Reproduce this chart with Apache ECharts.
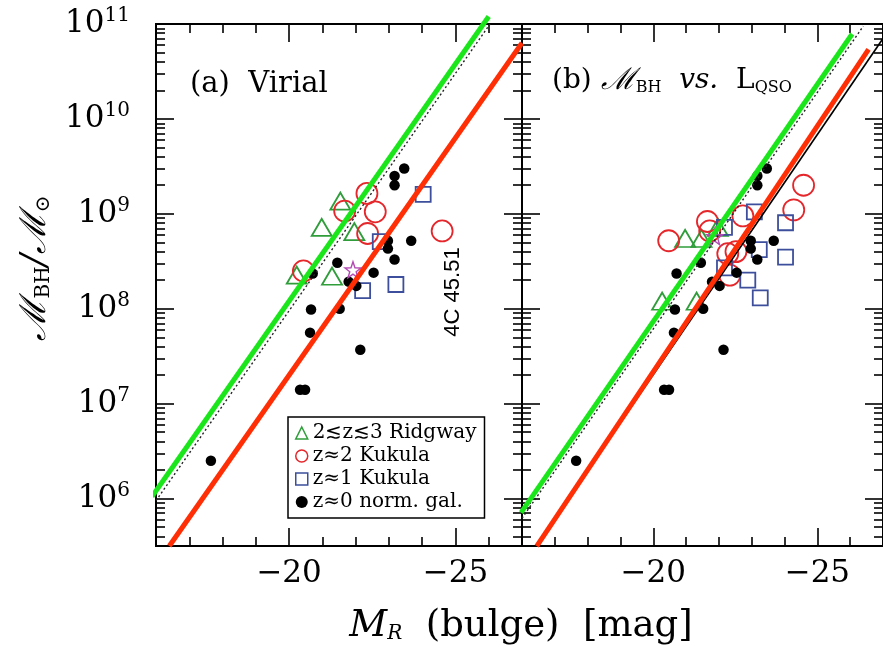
<!DOCTYPE html>
<html><head><meta charset="utf-8">
<script src="https://cdn.jsdelivr.net/npm/echarts@6/dist/echarts.min.js"></script>
<style>html,body{margin:0;padding:0;background:#fff}#c{width:883px;height:649px}</style>
</head><body><div id="c"></div><script>
// ---------------- data (M_R bulge [mag], M_BH [M_sun]) ----------------
const xLabelTicks = [-20, -25];
const xMajorTicks = [-20, -25];
const xMinorTicks = [-17, -18, -19, -21, -22, -23, -24, -26];
const yDecades = [1e6, 1e7, 1e8, 1e9, 1e10, 1e11];
const yMinorMultipliers = [2, 3, 4, 5, 6, 7, 8, 9];

// z~0 normal galaxies (same in both panels)
const normGal = [
  [-23.46, 3.0e9], [-23.17, 2.5e9], [-23.17, 2.0e9], [-23.67, 5.2e8], [-22.97, 5.2e8],
  [-22.97, 4.3e8], [-23.17, 3.3e8], [-21.45, 3.05e8], [-22.54, 2.4e8], [-20.71, 2.35e8],
  [-21.79, 1.93e8], [-22.02, 1.74e8], [-21.52, 1.0e8], [-20.66, 9.8e7], [-20.63, 5.6e7],
  [-22.14, 3.7e7], [-20.33, 1.4e7], [-20.48, 1.4e7], [-17.65, 2.5e6]
];
// panel (a) Virial
const ridgwayA = [[-21.54, 1.36e9], [-20.98, 7.2e8], [-21.96, 6.5e8], [-20.23, 2.26e8], [-21.29, 2.2e8]];
const kukula2A = [[-22.34, 1.64e9], [-21.67, 1.07e9], [-22.59, 1.05e9], [-22.36, 6.2e8], [-24.6, 6.6e8], [-20.43, 2.5e8]];
const kukula1A = [[-24.03, 1.6e9], [-22.74, 5.1e8], [-22.21, 1.55e8], [-23.21, 1.8e8]];
const starA = [[-21.92, 2.57e8]];
// panel (b) M_BH vs L_QSO
const ridgwayB = [[-20.97, 5.5e8], [-21.47, 5.5e8], [-21.97, 7.2e8], [-20.27, 1.2e8], [-21.32, 1.2e8]];
const kukula2B = [[-24.58, 2.0e9], [-24.28, 1.1e9], [-22.73, 9.5e8], [-21.65, 8.3e8], [-21.72, 6.6e8],
  [-20.47, 5.2e8], [-22.52, 4.0e8], [-22.27, 3.8e8], [-22.33, 2.26e8]];
const kukula1B = [[-23.08, 1.05e9], [-24.03, 8.05e8], [-24.03, 3.5e8], [-23.23, 4.2e8], [-22.17, 7.2e8],
  [-22.17, 2.7e8], [-22.88, 2.0e8], [-23.26, 1.3e8]];
const starB = [[-21.87, 5.75e8]];
// relation lines (endpoints)
const greenA = [[-15.88, 1.05e6], [-26.0, 1.2e11]];
const dottedA = [[-16.0, 9.5e5], [-26.04, 1.0e11]];
const redA = [[-16.4, 3.16e5], [-27.0, 6.3e10]];
const greenB = [[-15.97, 7.1e5], [-26.06, 7.85e10]];
const dottedB = [[-16.0, 6.2e5], [-26.4, 9.5e10]];
const redB = [[-16.45, 3.16e5], [-26.56, 5.4e10]];
const blackB = [[-16.43, 3.16e5], [-27.4, 1.12e11]];

const names = ['2\u2272z\u22723 Ridgway', 'z\u22482 Kukula', 'z\u22481 Kukula', 'z\u22480 norm. gal.'];

// ---------------- styling ----------------
const FF = 'DejaVu Serif';
const C_GREEN = '#2f9d3a', C_RED = '#e5262a', C_BLUE = '#3d4f9c', C_STAR = '#b24ab4';
const yMin = Math.pow(10, 5.5), yMax = 1e11;
const yMinor = [];
yDecades.concat([1e5]).forEach(d => yMinorMultipliers.forEach(m => { const v = d * m; if (v > yMin && v < yMax) yMinor.push(v); }));
const starPath = 'path://M0,-10L2.35,-3.24L9.51,-3.09L3.8,1.24L5.88,8.09L0,4L-5.88,8.09L-3.8,1.24L-9.51,-3.09L-2.35,-3.24Z';

const gridA = {left: 156, top: 24, width: 366, height: 522};
const gridB = {left: 522, top: 24, width: 366, height: 522};

function xAx(grid, pos, ticks, len, labels) {
  return {
    type: 'value', gridIndex: grid, position: pos, min: -27, max: -16, inverse: true,
    axisLine: {show: true, onZero: false, lineStyle: {color: '#000', width: 2}},
    axisTick: {show: true, inside: true, length: len, customValues: ticks, lineStyle: {color: '#000', width: 1.6}},
    axisLabel: labels ? {show: true, customValues: xLabelTicks, formatter: v => '\u2212' + Math.abs(v),
      fontFamily: FF, fontSize: 31, color: '#000', margin: 12} : {show: false},
    splitLine: {show: false}
  };
}
function yAx(grid, pos, ticks, len, labels) {
  return {
    type: 'log', logBase: 10, gridIndex: grid, position: pos, min: yMin, max: yMax,
    axisLine: {show: true, onZero: false, lineStyle: {color: '#000', width: 2}},
    axisTick: {show: true, inside: true, length: len, customValues: ticks, lineStyle: {color: '#000', width: 1.6}},
    axisLabel: labels ? {show: true, customValues: yDecades,
      formatter: v => '{b|10}{s|' + Math.round(Math.log10(v)) + '}',
      rich: {b: {fontFamily: FF, fontSize: 31, color: '#000'},
             s: {fontFamily: FF, fontSize: 20, color: '#000', padding: [0, 0, 16, 0]}},
      margin: 26} : {show: false},
    splitLine: {show: false}
  };
}

function scat(name, data, xi, yi, symbol, size, style) {
  return {type: 'scatter', name: name, data: data, xAxisIndex: xi, yAxisIndex: yi,
    symbol: symbol, symbolSize: size, itemStyle: Object.assign({opacity: 1}, style), z: 3, emphasis: {disabled: true}};
}
function line(data, xi, yi, color, width, type, z) {
  return {type: 'line', data: data, xAxisIndex: xi, yAxisIndex: yi, symbol: 'none', clip: false,
    lineStyle: {color: color, width: width, type: type || 'solid'}, z: z || 5, silent: true};
}
const stTri = {color: 'transparent', borderColor: C_GREEN, borderWidth: 1.8};
const stCir = {color: 'transparent', borderColor: C_RED, borderWidth: 1.8};
const stSq = {color: 'transparent', borderColor: C_BLUE, borderWidth: 1.8};
const stDot = {color: '#000'};
const stStar = {color: 'transparent', borderColor: C_STAR, borderWidth: 1.4};

function panelSeries(xi, yi, rid, k2, k1, star) {
  return [
    scat(names[0], rid, xi, yi, 'triangle', [20, 17], stTri),
    scat(names[1], k2, xi, yi, 'circle', 21, stCir),
    scat(names[2], k1, xi, yi, 'rect', 15, stSq),
    scat(names[3], normGal, xi, yi, 'circle', 10.5, stDot),
    scat('star', star, xi, yi, starPath, 16, stStar)
  ];
}

const chart = echarts.init(document.getElementById('c'), null, {renderer: 'canvas'});
chart.setOption({
  animation: false,
  backgroundColor: '#fff',
  grid: [gridA, gridA, gridB, gridB],
  xAxis: [
    xAx(0, 'bottom', xMajorTicks, 18, true), xAx(0, 'top', xMajorTicks, 18, false),
    xAx(1, 'bottom', xMinorTicks, 9, false), xAx(1, 'top', xMinorTicks, 9, false),
    xAx(2, 'bottom', xMajorTicks, 18, true), xAx(2, 'top', xMajorTicks, 18, false),
    xAx(3, 'bottom', xMinorTicks, 9, false), xAx(3, 'top', xMinorTicks, 9, false)
  ],
  yAxis: [
    yAx(0, 'left', yDecades, 18, true), yAx(0, 'right', yDecades, 18, false),
    yAx(1, 'left', yMinor, 9, false), yAx(1, 'right', yMinor, 9, false),
    yAx(2, 'left', yDecades, 18, false), yAx(2, 'right', yDecades, 18, false),
    yAx(3, 'left', yMinor, 9, false), yAx(3, 'right', yMinor, 9, false)
  ],
  legend: {
    left: 288, top: 417, orient: 'vertical', itemWidth: 12, itemHeight: 12, itemGap: 3,
    padding: [6, 8, 6, 7], borderColor: '#000', borderWidth: 1.5, backgroundColor: '#fff',
    selectedMode: false, z: 10,
    textStyle: {fontFamily: FF, fontSize: 20, color: '#000', lineHeight: 20},
    data: [
      {name: names[0], icon: 'triangle', itemStyle: {color: 'transparent', borderColor: C_GREEN, borderWidth: 1.5}},
      {name: names[1], icon: 'circle', itemStyle: {color: 'transparent', borderColor: C_RED, borderWidth: 1.5}},
      {name: names[2], icon: 'rect', itemStyle: {color: 'transparent', borderColor: C_BLUE, borderWidth: 1.5}},
      {name: names[3], icon: 'circle', itemStyle: {color: '#000'}}
    ]
  },
  graphic: [
    {type: 'text', left: 190, top: 70, z: 10, style: {text: '(a)  Virial', font: '29px "DejaVu Serif"', fill: '#000'}},
    {type: 'text', left: 552, top: 66, z: 10, style: {
      text: '{n|(b) }{m|\u2133}{s|BH}{n|  }{i|vs.}{n|  L}{s|QSO}',
      rich: {
        n: {fontFamily: FF, fontSize: 28, fill: '#000'},
        m: {fontFamily: FF, fontSize: 30, fontStyle: 'italic', fill: '#000'},
        i: {fontFamily: FF, fontSize: 28, fontStyle: 'italic', fill: '#000'},
        s: {fontFamily: FF, fontSize: 16, fill: '#000', padding: [14, 0, 0, 0]}
      }}},
    {type: 'text', x: 453, y: 292, rotation: Math.PI / 2, z: 10, style: {
      text: '4C 45.51', font: '22px "Liberation Sans"', fill: '#000', align: 'center', verticalAlign: 'middle'}},
    {type: 'text', x: 36, y: 268, rotation: Math.PI / 2, z: 10, style: {
      text: '{m|\u2133}{s|BH}{m|/\u2133}{s|\u2299}', align: 'center', verticalAlign: 'middle',
      rich: {
        m: {fontFamily: FF, fontSize: 36, fontStyle: 'italic', fill: '#000'},
        s: {fontFamily: FF, fontSize: 20, fill: '#000', padding: [16, 0, 0, 0]}
      }}},
    {type: 'text', x: 521, y: 626, z: 10, style: {
      text: '{i|M}{r|R}{n|  (bulge)  [mag]}', align: 'center', verticalAlign: 'middle',
      rich: {
        i: {fontFamily: FF, fontSize: 37, fontStyle: 'italic', fill: '#000'},
        r: {fontFamily: FF, fontSize: 20, fontStyle: 'italic', fill: '#000', padding: [16, 0, 0, 0]},
        n: {fontFamily: FF, fontSize: 37, fill: '#000'}
      }}}
  ],
  series: [].concat(
    panelSeries(0, 0, ridgwayA, kukula2A, kukula1A, starA),
    panelSeries(4, 4, ridgwayB, kukula2B, kukula1B, starB),
    [
      line(dottedA, 0, 0, '#222', 1.4, [2, 2.5], 4),
      line(greenA, 0, 0, '#1be61b', 5, 'solid', 6),
      line(redA, 0, 0, '#ff2e05', 5, 'solid', 6),
      line(dottedB, 4, 4, '#222', 1.4, [2, 2.5], 4),
      line(blackB, 4, 4, '#000', 1.6, 'solid', 5),
      line(greenB, 4, 4, '#1be61b', 5, 'solid', 6),
      line(redB, 4, 4, '#ff2e05', 5, 'solid', 6)
    ]
  )
});
</script></body></html>
